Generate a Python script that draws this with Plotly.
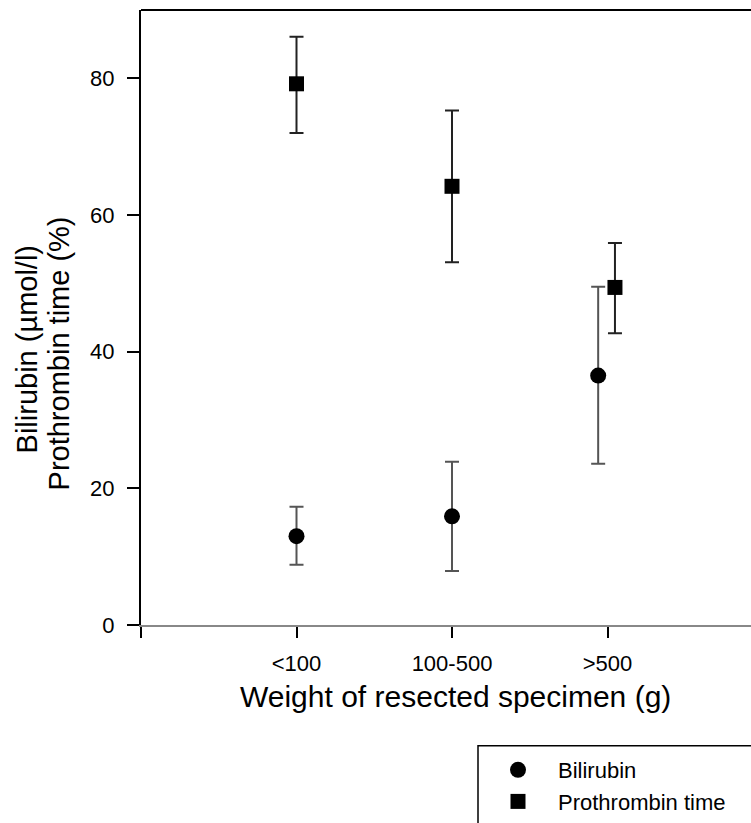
import plotly.graph_objects as go

# ---- data ----
categories = ["<100", "100-500", ">500"]
cat_pos = [1, 2, 3]

bili_mean = [13.0, 15.9, 36.5]
bili_upper = [17.3, 23.9, 49.5]
bili_lower = [8.8, 7.9, 23.6]
bili_offset = [0.0, 0.0, -0.06]

pt_mean = [79.2, 64.2, 49.4]
pt_upper = [86.1, 75.3, 55.9]
pt_lower = [72.0, 53.1, 42.7]
pt_offset = [0.0, 0.0, 0.048]

y_ticks = [0, 20, 40, 60, 80]

FONT = "Arial, Liberation Sans, sans-serif"

W, H = 751, 823
L, R, T, B = 141, 0, 10, 197
PW, PH = W - L - R, H - T - B


def px_x(p):
    return (p - L) / PW


def px_y(p):
    return (H - B - p) / PH


bx = [c + o for c, o in zip(cat_pos, bili_offset)]
px_ = [c + o for c, o in zip(cat_pos, pt_offset)]

fig = go.Figure()
fig.add_trace(go.Scatter(
    x=bx, y=bili_mean, mode="markers", name="Bilirubin",
    marker=dict(symbol="circle", size=16, color="black"),
    error_y=dict(type="data", symmetric=False,
                 array=[u - m for u, m in zip(bili_upper, bili_mean)],
                 arrayminus=[m - l for m, l in zip(bili_mean, bili_lower)],
                 color="#555555", thickness=2, width=7),
))
fig.add_trace(go.Scatter(
    x=px_, y=pt_mean, mode="markers", name="Prothrombin time",
    marker=dict(symbol="square", size=15, color="black"),
    error_y=dict(type="data", symmetric=False,
                 array=[u - m for u, m in zip(pt_upper, pt_mean)],
                 arrayminus=[m - l for m, l in zip(pt_mean, pt_lower)],
                 color="#222222", thickness=2, width=7),
))

fig.update_layout(
    width=W, height=H,
    margin=dict(l=L, r=R, t=T, b=B),
    paper_bgcolor="white", plot_bgcolor="white",
    font=dict(family=FONT, color="black", size=22),
    showlegend=True,
    legend=dict(
        x=px_x(478), y=px_y(750), xanchor="left", yanchor="top",
        bgcolor="rgba(0,0,0,0)", borderwidth=0,
        font=dict(family=FONT, size=22, color="black"),
        itemwidth=70,
    ),
    xaxis=dict(
        range=[0, (W - L) / 155.5], tickmode="array",
        tickvals=[0] + cat_pos, ticktext=[""] + categories,
        showgrid=False, zeroline=False,
        showline=True, linecolor="#888888", linewidth=2,
        ticks="outside", ticklen=11, tickwidth=2, tickcolor="black",
        tickfont=dict(size=22), ticklabelstandoff=7,
    ),
    yaxis=dict(
        range=[0, 90], tickmode="array", tickvals=y_ticks,
        showgrid=False, zeroline=False,
        showline=True, linecolor="black", linewidth=2,
        ticks="outside", ticklen=12, tickwidth=2, tickcolor="black",
        tickfont=dict(size=22), ticklabelstandoff=8,
    ),
    shapes=[
        # top frame line
        dict(type="line", xref="paper", yref="paper", x0=0, x1=1.02, y0=1, y1=1,
             line=dict(color="black", width=2)),
        # legend frame
        dict(type="rect", xref="paper", yref="paper",
             x0=px_x(478), x1=px_x(770), y0=px_y(747), y1=px_y(840),
             line=dict(color="black", width=1.5), fillcolor="rgba(0,0,0,0)"),
    ],
    annotations=[
        dict(text="Weight of resected specimen (g)", xref="paper", yref="paper",
             x=px_x(455), y=px_y(698), xanchor="center", yanchor="middle",
             showarrow=False, font=dict(size=30)),
        dict(text="Bilirubin (µmol/l)", xref="paper", yref="paper",
             x=px_x(27), y=px_y(350), xanchor="center", yanchor="middle",
             textangle=-90, showarrow=False, font=dict(size=29)),
        dict(text="Prothrombin time (%)", xref="paper", yref="paper",
             x=px_x(59), y=px_y(354), xanchor="center", yanchor="middle",
             textangle=-90, showarrow=False, font=dict(size=29)),
    ],
)

fig.write_html(
    "out.html",
    config={"displayModeBar": False},
    post_script="document.body.style.margin='0';document.body.style.overflow='hidden';",
)
